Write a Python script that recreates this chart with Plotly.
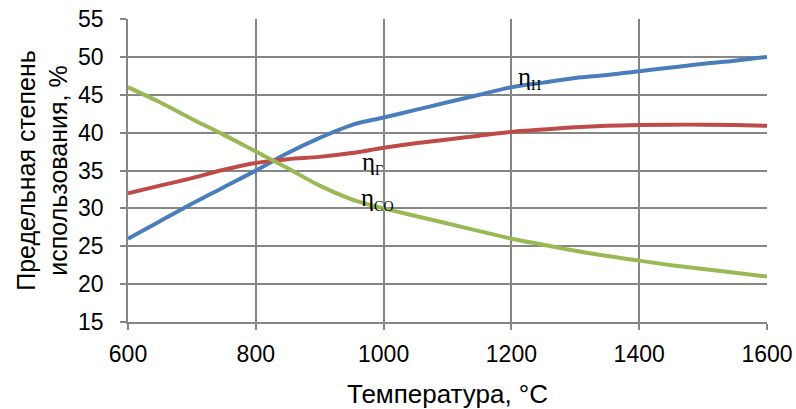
import plotly.graph_objects as go

temps = [600, 650, 700, 750, 800, 850, 900, 950, 1000, 1050, 1100, 1150, 1200,
         1250, 1300, 1350, 1400, 1450, 1500, 1550, 1600]
eta_h = [26, 28.3, 30.6, 32.8, 35, 37.3, 39.3, 41, 42, 43, 44, 45, 46,
         46.6, 47.2, 47.6, 48.1, 48.6, 49.1, 49.5, 50]
eta_g = [32, 33, 34, 35.1, 36, 36.5, 36.8, 37.3, 38, 38.6, 39.1, 39.6, 40.1,
         40.4, 40.7, 40.9, 41, 41.05, 41.05, 41, 40.9]
eta_co = [46, 44, 41.8, 39.7, 37.5, 35.3, 33, 31.2, 30, 29, 28, 27, 26,
          25.2, 24.4, 23.7, 23.1, 22.5, 22, 21.5, 21]

x_ticks = [600, 800, 1000, 1200, 1400, 1600]
y_ticks = [15, 20, 25, 30, 35, 40, 45, 50, 55]

label_names = ["Н", "Г", "CO"]
label_x = [1229, 982, 990]
label_y = [47.2, 36.0, 31.2]

fig = go.Figure()
for ys, col in [(eta_h, "#4A7EBB"), (eta_g, "#BE4B48"), (eta_co, "#98B954")]:
    fig.add_trace(go.Scatter(x=temps, y=ys, mode="lines",
                             line=dict(color=col, width=4, shape="spline"),
                             showlegend=False))

for n, xx, yy in zip(label_names, label_x, label_y):
    fig.add_annotation(x=xx, y=yy,
                       text="η<sub><span style='font-size:14px'>" + n + "</span></sub>",
                       showarrow=False,
                       font=dict(family="Liberation Serif", size=25, color="black"))

axis_common = dict(showline=True, linecolor="#868686", linewidth=1.5,
                   gridcolor="#868686", gridwidth=1.5, ticks="outside",
                   ticklen=6, tickcolor="#868686", tickwidth=1.5,
                   zeroline=False, automargin=False,
                   tickfont=dict(family="Liberation Sans", size=23, color="black"))

fig.update_xaxes(range=[600, 1600], tickvals=x_ticks, ticklabelstandoff=5,
                 title=dict(text="Температура, °C",
                            font=dict(family="Liberation Sans", size=26, color="black"),
                            standoff=21),
                 **axis_common)
fig.update_yaxes(range=[15, 55], tickvals=y_ticks, ticklabelstandoff=12,
                 title=dict(text="Предельная степень<br>использования, %",
                            font=dict(family="Liberation Sans", size=25, color="black"),
                            standoff=3),
                 **axis_common)

fig.update_layout(width=796, height=409, margin=dict(l=128, r=29, t=19, b=87),
                  plot_bgcolor="white", paper_bgcolor="white")
fig.write_html("out.html", config={"displayModeBar": False},
               post_script="document.body.style.margin='0';")
